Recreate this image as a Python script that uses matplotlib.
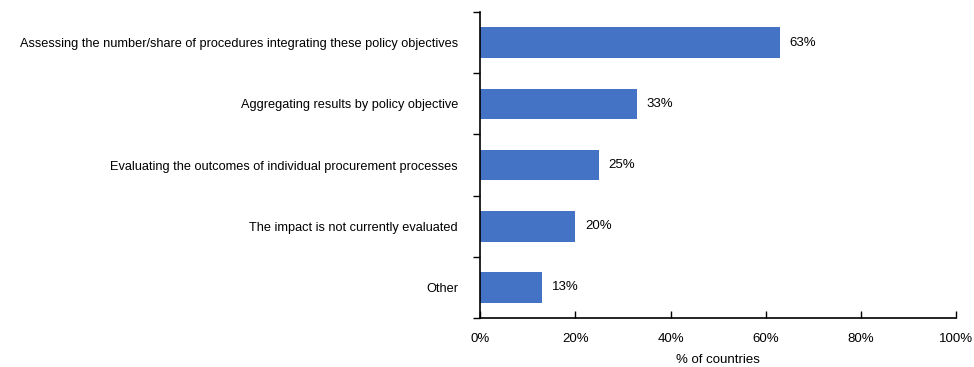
import matplotlib.pyplot as plt
import numpy as np
from matplotlib.ticker import FixedLocator, PercentFormatter

categories = [
    "Assessing the number/share of procedures integrating these policy objectives",
    "Aggregating results by policy objective",
    "Evaluating the outcomes of individual procurement processes",
    "The impact is not currently evaluated",
    "Other",
]
shares = [63, 33, 25, 20, 13]
xticks = [0, 20, 40, 60, 80, 100]

plt.rcParams['font.family'] = ['Liberation Sans', 'DejaVu Sans']

fig = plt.figure(figsize=(9.74, 3.67), dpi=100)
ax = fig.add_axes([0.493, 0.1335, 0.4885, 0.8335])

y = np.arange(len(categories))
ax.barh(y, shares, height=0.5, color='#4472C4')
for yi, v in zip(y, shares):
    ax.text(v + 2, yi, f"{v}%", va='center', ha='left', fontsize=9.5)

ax.set_ylim(len(categories) - 0.5, -0.5)
ax.set_xlim(0, 100)
ax.set_yticks(y)
ax.set_yticklabels(categories, fontsize=9.2)
ax.tick_params(axis='y', length=0, pad=16)
ax.yaxis.set_minor_locator(FixedLocator(np.arange(-0.5, len(categories), 1)))
ax.tick_params(axis='y', which='minor', length=5, direction='out', width=1)

ax.set_xticks(xticks)
ax.xaxis.set_major_formatter(PercentFormatter(decimals=0))
ax.tick_params(axis='x', direction='in', length=5, width=1, labelsize=9.5, pad=11)
ax.set_xlabel("% of countries", fontsize=9.5, labelpad=6)

for s in ['top', 'right']:
    ax.spines[s].set_visible(False)
for s in ['left', 'bottom']:
    ax.spines[s].set_linewidth(1.2)

fig.savefig('out.png', dpi=100)
